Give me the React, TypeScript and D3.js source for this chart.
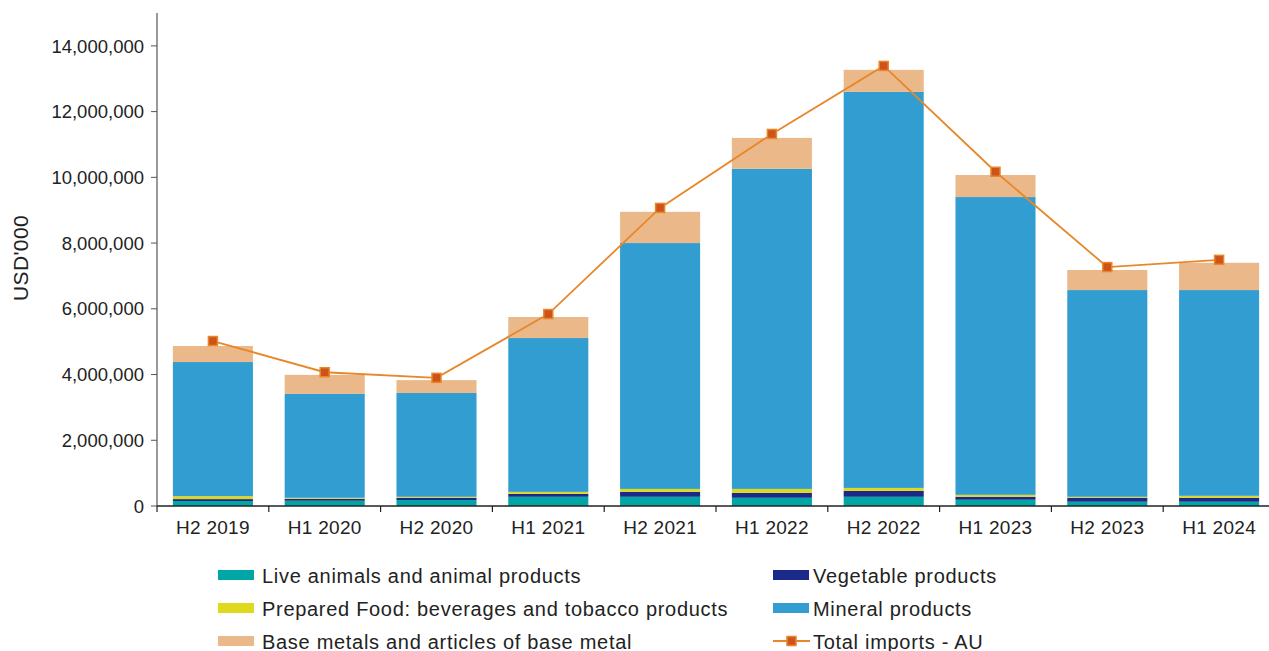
import React from "react";
import * as d3 from "d3";

const categories = ["H2 2019", "H1 2020", "H2 2020", "H1 2021", "H2 2021", "H1 2022", "H2 2022", "H1 2023", "H2 2023", "H1 2024"];
const liveAnimals = [150000, 160000, 180000, 280000, 280000, 250000, 280000, 190000, 130000, 130000];
const vegetable = [60000, 60000, 70000, 90000, 150000, 150000, 180000, 90000, 120000, 120000];
const preparedFood = [90000, 30000, 30000, 60000, 90000, 120000, 90000, 60000, 30000, 60000];
const mineral = [4080000, 3160000, 3160000, 4680000, 7480000, 9740000, 12050000, 9060000, 6290000, 6260000];
const baseMetals = [487000, 580000, 390000, 640000, 950000, 940000, 670000, 670000, 610000, 830000];
const totalImports = [5020000, 4070000, 3900000, 5840000, 9070000, 11320000, 13390000, 10170000, 7270000, 7490000];
const yTicks = [0, 2000000, 4000000, 6000000, 8000000, 10000000, 12000000, 14000000];

const seriesNames = [
  "Live animals and animal products",
  "Vegetable products",
  "Prepared Food: beverages and tobacco products",
  "Mineral products",
  "Base metals and articles of base metal",
];
const seriesColors = ["#00A5A5", "#1B2A88", "#E0D81E", "#319DD0", "#EBB88A"];
const lineName = "Total imports - AU";
const lineColor = "#E8872A";
const markerColor = "#CD531A";

const W = 1269;
const H = 651;
const PLOT_LEFT = 157;
const PLOT_RIGHT = 1275;
const PLOT_TOP = 13;
const PLOT_BOTTOM = 506;
const FONT = "'Liberation Sans', Arial, sans-serif";

export default function App() {
  const x = d3.scaleBand<string>().domain(categories).range([PLOT_LEFT, PLOT_RIGHT]).paddingInner(0.284).paddingOuter(0.142);
  const y = d3.scaleLinear().domain([0, 15000000]).range([PLOT_BOTTOM, PLOT_TOP]);
  const seriesArrays = [liveAnimals, vegetable, preparedFood, mineral, baseMetals];
  const rows = categories.map((c, i) => {
    const r: any = { cat: c };
    seriesNames.forEach((n, k) => (r[n] = seriesArrays[k][i]));
    return r;
  });
  const stacked = d3.stack<any>().keys(seriesNames)(rows);
  const fmt = d3.format(",");
  const cx = (i: number) => (x(categories[i]) as number) + x.bandwidth() / 2;
  const line = d3
    .line<number>()
    .x((_, i) => cx(i))
    .y((d) => y(d));
  const y0 = y(0);
  const step = x.step();

  const legendItems = [
    { name: seriesNames[0], color: seriesColors[0], x: 218, tx: 262, y: 575 },
    { name: seriesNames[1], color: seriesColors[1], x: 773, tx: 813, y: 575 },
    { name: seriesNames[2], color: seriesColors[2], x: 218, tx: 262, y: 608 },
    { name: seriesNames[3], color: seriesColors[3], x: 773, tx: 813, y: 608 },
    { name: seriesNames[4], color: seriesColors[4], x: 218, tx: 262, y: 641 },
  ];
  const legendFont = { fontSize: 20, letterSpacing: 0.7 } as const;

  return (
    <svg width={W} height={H} style={{ position: "absolute", left: 0, top: 0, background: "#fff" }} fontFamily={FONT}>
      {stacked.map((s, k) => (
        <g key={k} fill={seriesColors[k]}>
          {s.map((d, i) => (
            <rect key={i} x={x(categories[i])} width={x.bandwidth()} y={y(d[1])} height={y(d[0]) - y(d[1])} />
          ))}
        </g>
      ))}
      {/* axes */}
      <line x1={PLOT_LEFT} x2={PLOT_LEFT} y1={PLOT_TOP} y2={y0} stroke="#555" strokeWidth={1.2} />
      <line x1={PLOT_LEFT} x2={W} y1={y0} y2={y0} stroke="#222" strokeWidth={1.5} />
      {yTicks.map((t) => (
        <g key={t}>
          <line x1={PLOT_LEFT - 6} x2={PLOT_LEFT} y1={y(t)} y2={y(t)} stroke="#555" />
          <text x={PLOT_LEFT - 13} y={y(t)} dy="0.36em" textAnchor="end" fontSize={18.5} fill="#222">
            {fmt(t)}
          </text>
        </g>
      ))}
      {categories.map((c, i) => (
        <g key={c}>
          <line x1={PLOT_LEFT + i * step} x2={PLOT_LEFT + i * step} y1={y0} y2={y0 + 6} stroke="#222" strokeWidth={1.2} />
          <text x={cx(i)} y={y0 + 28} textAnchor="middle" fontSize={19} letterSpacing={0.3} fill="#222">
            {c}
          </text>
        </g>
      ))}
      <text transform={`translate(28,${258}) rotate(-90)`} textAnchor="middle" fontSize={21} letterSpacing={0.4} fill="#222">
        USD'000
      </text>
      {/* total line */}
      <path d={line(totalImports) || ""} fill="none" stroke={lineColor} strokeWidth={1.8} />
      {totalImports.map((v, i) => (
        <rect key={i} x={cx(i) - 4.5} y={y(v) - 4.5} width={9} height={9} fill={markerColor} stroke={lineColor} strokeWidth={1.5} />
      ))}
      {/* legend */}
      {legendItems.map((l) => (
        <g key={l.name}>
          <rect x={l.x} y={l.y - 5} width={36} height={10} fill={l.color} />
          <text x={l.tx} y={l.y + 8} {...legendFont} fill="#222">
            {l.name}
          </text>
        </g>
      ))}
      <g>
        <line x1={773} x2={810} y1={641} y2={641} stroke={lineColor} strokeWidth={1.8} />
        <rect x={787} y={636.5} width={9} height={9} fill={markerColor} stroke={lineColor} strokeWidth={1.5} />
        <text x={813} y={649} {...legendFont} fill="#222">
          {lineName}
        </text>
      </g>
    </svg>
  );
}
